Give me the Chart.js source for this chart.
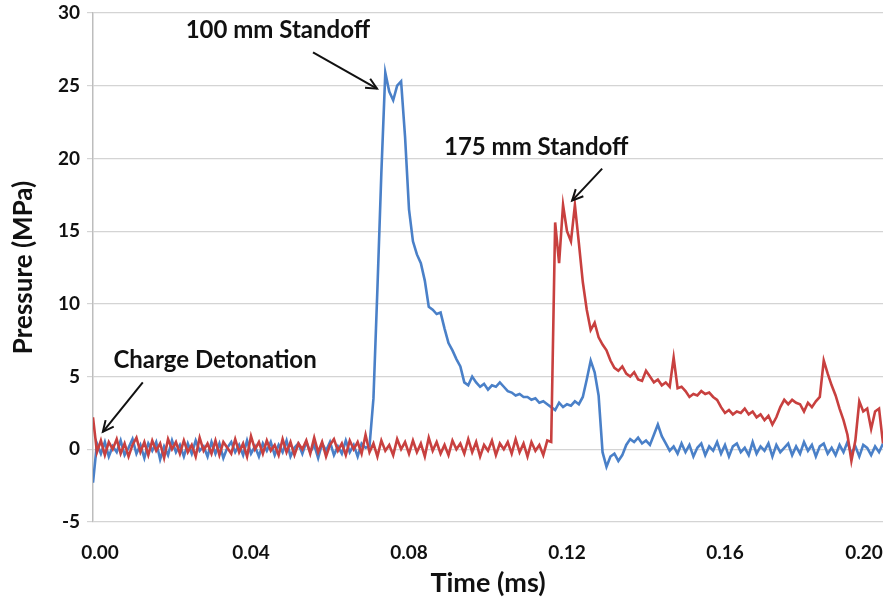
<!DOCTYPE html>
<html>
<head>
<meta charset="utf-8">
<script src="https://cdn.jsdelivr.net/npm/chart.js@4.4.1/dist/chart.umd.min.js"></script>
<style>
  body { margin: 0; background: #fff; }
  #chart { display: block; }
</style>
</head>
<body>
<canvas id="chart" width="894" height="603"></canvas>
<script>
// samples are 0.001 ms apart, starting at 0
var sampleStep = 0.001;

var yTicks = [-5, 0, 5, 10, 15, 20, 25, 30];
var xTicks = [0, 0.04, 0.08, 0.12, 0.16, 0.20];

// 100 mm standoff (blue)
var pressure100 = [
  -2.3,
  0.4, -0.3, 0.5, -0.5, 0.2, -0.2, 0.6, -0.4, 0.1, 0.7, -0.3, 0.3, -0.6, 0.4, -0.1, 0.5, -0.7, 0.2, -0.4, 0.6,
  -0.2, 0.3, -0.5, 0.4, -0.3, 0.6, -0.1, 0.2, -0.5, 0.5, -0.3, 0.4, -0.6, 0.1, 0.5, -0.2, 0.3, -0.4, 0.6, -0.3,
  0.2, -0.5, 0.4, -0.1, 0.5, -0.4, 0.3, -0.2, 0.6, -0.5, 0.1, 0.4, -0.3, 0.5, -0.2, 0.3, -0.6, 0.4, -0.1, 0.5,
  -0.4, 0.2, -0.3, 0.6, -0.2, 0.3, -0.5, 0.4, 0.1,
  0.2, 3.5, 11, 19, 25.9, 24.6, 24.0, 25.0, 25.3, 21.5,
  16.5, 14.3, 13.4, 12.8, 11.6, 9.8, 9.6, 9.3, 9.4, 8.3,
  7.3, 6.8, 6.2, 5.7, 4.6, 4.4, 5.0, 4.6, 4.3, 4.5,
  4.1, 4.4, 4.3, 4.6, 4.3, 4.0, 3.9, 3.7, 3.8, 3.6,
  3.6, 3.4, 3.5, 3.2, 3.3, 3.1, 2.9, 2.7, 3.2, 2.9,
  3.1, 3.0, 3.3, 3.1, 3.6, 4.8, 6.1, 5.3, 3.7, -0.2,
  -1.2, -0.5, -0.3, -0.8, -0.4, 0.3, 0.7, 0.5, 0.8, 0.4,
  0.6, 0.3, 1.0, 1.7, 0.9, 0.4, -0.1,
  0.2, -0.3, 0.4, -0.2, 0.3, -0.5, 0.1, 0.4, -0.4, 0.2,
  -0.1, 0.5, -0.3, 0.3, -0.5, 0.2, 0.4, -0.2, 0.1, -0.4,
  0.5, -0.3, 0.2, -0.1, 0.4, -0.5, 0.3, -0.2, 0.1, 0.4,
  -0.4, 0.2, -0.3, 0.5, -0.1, 0.3, -0.5, 0.2, 0.4, -0.3,
  0.1, -0.4, 0.3, -0.2, 0.5, -0.3, 0.2, -0.5, 0.3, 0.1,
  -0.4, 0.2, -0.2, 0.4
];

// 175 mm standoff (red)
var pressure175 = [
  2.2,
  -0.2, 0.6, -0.4, 0.5, 0.0, 0.7, -0.3, 0.4, -0.5, 0.3,
  0.8, -0.2, 0.5, -0.4, 0.6, -0.1, 0.4, -0.6, 0.7, 0.0,
  0.5, -0.3, 0.6, -0.2, 0.3, -0.5, 0.8, -0.1, 0.4, -0.3,
  0.6, -0.4, 0.5, 0.1, -0.3, 0.7, -0.2, 0.4, -0.5, 0.9,
  0.0, 0.5, -0.3, 0.6, -0.1, 0.3, -0.4, 0.7, -0.2, 0.5,
  -0.4, 0.4, 0.0, 0.6, -0.3, 0.8, -0.2, 0.5, -0.5, 0.3,
  0.7, -0.1, 0.4, -0.4, 0.6, 0.0, 0.5, -0.3, 1.0, -0.2,
  0.4, -0.5, 0.6, -0.1, 0.3, -0.4, 0.7, 0.0, 0.5, -0.3,
  0.6, -0.2, 0.4, -0.5, 0.8, -0.1, 0.5, -0.3, 0.3, -0.4,
  0.6, 0.0, 0.4, -0.3, 0.7, -0.2, 0.5, -0.5, 0.3, -0.1,
  0.6, -0.4, 0.4, 0.0, 0.5, -0.3, 0.7, -0.2, 0.4, -0.5,
  0.5, -0.1, 0.3, -0.4, 0.6, 0.5,
  15.6, 12.8, 16.8, 15.0, 14.3, 16.8, 14.2, 11.5, 9.6,
  8.2, 8.7, 7.7, 7.2, 6.8, 6.1, 5.6, 5.4, 5.7, 5.2,
  5.0, 5.3, 4.8, 4.7, 5.4, 5.0, 4.6, 4.8, 4.4, 4.6,
  4.3, 6.3, 4.2, 4.3, 4.0, 3.6, 3.8, 3.7, 4.0, 3.8,
  3.9, 3.6, 3.4, 2.9, 2.5, 2.7, 2.4, 2.6, 2.5, 2.8,
  2.4, 2.6, 2.2, 2.4, 2.0, 2.3, 1.7, 2.2, 2.9, 3.4,
  3.1, 3.4, 3.2, 3.1, 2.6, 3.2, 2.9, 3.3, 3.6, 6.1,
  5.2, 4.4, 3.7, 2.8, 2.0, 1.0, -0.8, 0.6, 3.3, 2.6,
  2.8, 1.4, 2.6, 2.8, 0.4
];

function toPoints(values) {
  return values.map(function (v, i) {
    return { x: i * sampleStep, y: v };
  });
}

// callouts, placed in data units
var callouts = [
  { text: "100 mm Standoff", at: [0.0468, 28.8], from: [0.0557, 27.3], to: [0.0719, 24.8] },
  { text: "175 mm Standoff", at: [0.1122, 20.8], from: [0.1289, 19.3], to: [0.1213, 17.1] },
  { text: "Charge Detonation", at: [0.0309, 6.1], from: [0.0126, 4.6], to: [0.0025, 1.2] }
];

var fontName = "Lato, 'Open Sans', sans-serif";

var calloutPlugin = {
  id: "callouts",
  afterDatasetsDraw: function (chart) {
    var ctx = chart.ctx;
    var xs = chart.scales.x, ys = chart.scales.y;
    ctx.save();
    ctx.fillStyle = "#111";
    ctx.strokeStyle = "#111";
    ctx.lineWidth = 2;
    ctx.font = "bold 24px " + fontName;
    ctx.textAlign = "center";
    ctx.textBaseline = "middle";
    callouts.forEach(function (c) {
      ctx.fillText(c.text, xs.getPixelForValue(c.at[0]), ys.getPixelForValue(c.at[1]));
      var x1 = xs.getPixelForValue(c.from[0]), y1 = ys.getPixelForValue(c.from[1]);
      var x2 = xs.getPixelForValue(c.to[0]), y2 = ys.getPixelForValue(c.to[1]);
      ctx.beginPath();
      ctx.moveTo(x1, y1);
      ctx.lineTo(x2, y2);
      ctx.stroke();
      var a = Math.atan2(y2 - y1, x2 - x1);
      ctx.beginPath();
      ctx.moveTo(x2 - 12 * Math.cos(a - 0.45), y2 - 12 * Math.sin(a - 0.45));
      ctx.lineTo(x2, y2);
      ctx.lineTo(x2 - 12 * Math.cos(a + 0.45), y2 - 12 * Math.sin(a + 0.45));
      ctx.stroke();
    });
    ctx.restore();
  }
};

// Excel nudges the end labels inwards so they stay inside the picture
var edgeLabelPlugin = {
  id: "edgeLabels",
  beforeDraw: function (chart) {
    var items = chart.scales.x.getLabelItems();
    if (!items.length) return;
    items[0].options.translation[0] += 7;
    items[items.length - 1].options.translation[0] -= 19;
  }
};

new Chart(document.getElementById("chart"), {
  type: "line",
  data: {
    datasets: [
      {
        label: "175 mm Standoff",
        data: toPoints(pressure175),
        borderColor: "#c8403f",
        borderWidth: 2.6,
        pointRadius: 0,
        tension: 0
      },
      {
        label: "100 mm Standoff",
        data: toPoints(pressure100),
        borderColor: "#4a80c8",
        borderWidth: 2.6,
        pointRadius: 0,
        tension: 0
      }
    ]
  },
  options: {
    responsive: false,
    animation: false,
    layout: { padding: { top: 13, right: 11, left: 0, bottom: 0 } },
    plugins: {
      legend: { display: false },
      tooltip: { enabled: false }
    },
    scales: {
      x: {
        type: "linear",
        min: 0,
        max: 0.20,
        afterBuildTicks: function (s) {
          s.ticks = xTicks.map(function (v) { return { value: v }; });
        },
        afterFit: function (s) {
          s.height = 81;
          s.paddingLeft = 0;
          s.paddingRight = 0;
        },
        grid: { display: false },
        border: { display: false },
        ticks: {
          padding: 11,
          color: "#111",
          font: { family: fontName, size: 19, weight: "bold" },
          maxRotation: 0,
          callback: function (v) { return v.toFixed(2); }
        },
        title: {
          display: true,
          text: "Time (ms)",
          color: "#111",
          padding: { top: 0, bottom: 4 },
          font: { family: fontName, size: 27, weight: "bold" }
        }
      },
      y: {
        min: -5,
        max: 30,
        afterBuildTicks: function (s) {
          s.ticks = yTicks.map(function (v) { return { value: v }; });
        },
        afterFit: function (s) {
          s.width = 93;
          s.paddingTop = 0;
          s.paddingBottom = 0;
        },
        grid: { color: "#d4d4d4", lineWidth: 1.2, tickLength: 6 },
        border: { color: "#bdbdbd", width: 1.5 },
        ticks: {
          padding: 7,
          color: "#111",
          font: { family: fontName, size: 19, weight: "bold" }
        },
        title: {
          display: true,
          text: "Pressure (MPa)",
          color: "#111",
          padding: { top: 8, bottom: 0 },
          font: { family: fontName, size: 26, weight: "bold" }
        }
      }
    }
  },
  plugins: [calloutPlugin, edgeLabelPlugin]
});
</script>
</body>
</html>
